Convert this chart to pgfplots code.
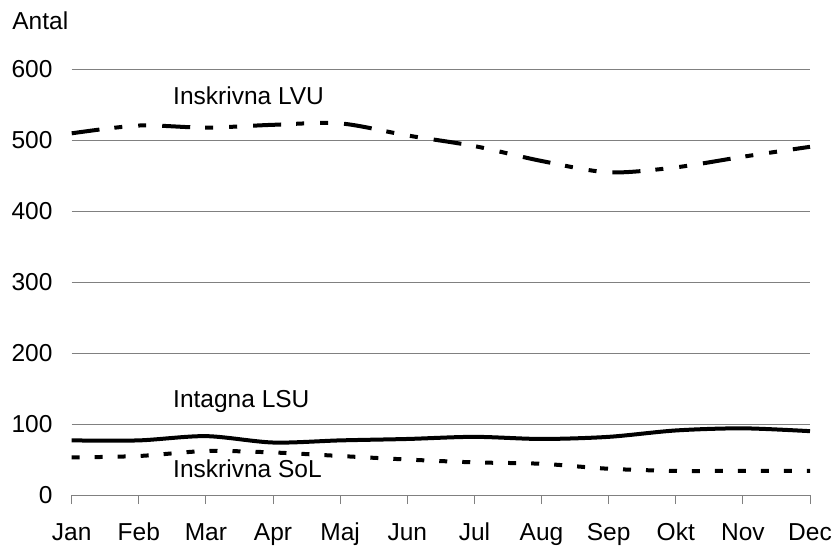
\documentclass[border=0pt]{standalone}
\usepackage{fontspec}
\setmainfont{Liberation Sans}
\usepackage{pgfplots}
\pgfplotsset{compat=1.18}
\begin{document}
\fontsize{24.5bp}{29bp}\selectfont
\begin{tikzpicture}
\useasboundingbox (-71.7bp,-52bp) rectangle (763.3bp,495bp);
\begin{axis}[
  at={(0,0)}, anchor=south west,
  scale only axis, width=738.3bp, height=425.5bp,
  xmin=0, xmax=11, ymin=0, ymax=600,
  axis x line*=bottom, axis y line*=left,
  y axis line style={draw=none},
  x axis line style={draw=gray, line width=1bp},
  xtick={0,...,11},
  xticklabels={Jan,Feb,Mar,Apr,Maj,Jun,Jul,Aug,Sep,Okt,Nov,Dec},
  ytick={0,100,...,600},
  ymajorgrids, grid style={gray, line width=1bp},
  tick align=outside, major tick length=9bp,
  xtick style={draw=gray, line width=1bp},
  ytick style={draw=none},
  /pgf/number format/assume math mode=true,
  xticklabel style={anchor=base, inner sep=0pt, yshift=-36bp},
  yticklabel style={anchor=east, inner sep=0pt, xshift=-10bp},
  clip=false,
]
\addplot[black, line width=4bp, smooth, tension=0.5,
  dash pattern=on 28bp off 15bp on 8bp off 16bp on 8bp off 16bp]
  coordinates {(0,510) (1,521) (2,518) (3,522) (4,524) (5,507) (6,492) (7,471) (8,455) (9,462) (10,477) (11,491)};
\addplot[black, line width=4bp, smooth, tension=0.5]
  coordinates {(0,77) (1,77) (2,83) (3,74) (4,77) (5,79) (6,82) (7,79) (8,82) (9,91) (10,94) (11,90)};
\addplot[black, line width=4bp, smooth, tension=0.5,
  dash pattern=on 8bp off 15bp]
  coordinates {(0,53) (1,55) (2,62) (3,60) (4,55) (5,50) (6,46) (7,44) (8,37) (9,34) (10,34) (11,34)};
\node[anchor=base west, inner sep=0pt] at (axis cs:1.51,550) {Inskrivna LVU};
\node[anchor=base west, inner sep=0pt] at (axis cs:1.51,122.7) {Intagna LSU};
\node[anchor=base west, inner sep=0pt] at (axis cs:1.51,24) {Inskrivna SoL};
\node[anchor=base west, inner sep=0pt] at ([xshift=-59.5bp,yshift=40bp]rel axis cs:0,1) {Antal};
\end{axis}
\end{tikzpicture}
\end{document}
